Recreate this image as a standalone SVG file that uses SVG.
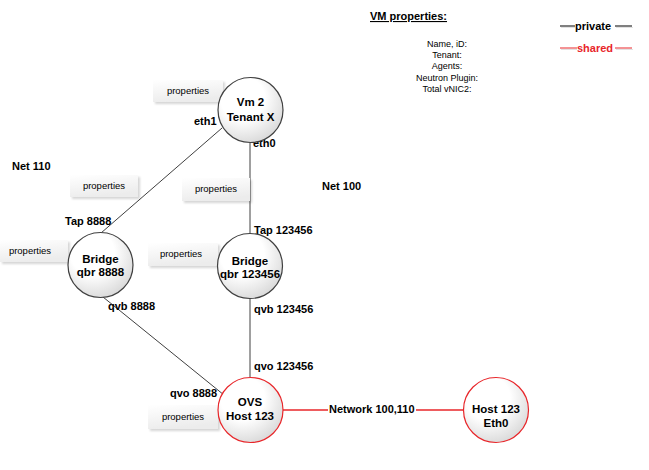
<svg xmlns="http://www.w3.org/2000/svg" width="649" height="470" viewBox="0 0 649 470">
<style>
.lbl{font-family:"Liberation Sans",Arial,sans-serif;font-size:11px;font-weight:bold;fill:#000}
.ntx{font-family:"Liberation Sans",Arial,sans-serif;font-size:11.5px;font-weight:bold;fill:#000;text-anchor:middle}
.prop{font-family:"Liberation Sans",Arial,sans-serif;font-size:9.5px;fill:#000;text-anchor:middle}
.info{font-family:"Liberation Sans",Arial,sans-serif;font-size:9px;fill:#000;text-anchor:middle}
.box{fill:url(#boxg);filter:url(#sh)}
.circ{fill:url(#cg);stroke:#404040;stroke-width:1.2}
.rcirc{fill:url(#cg);stroke:#e8262a;stroke-width:1.2}
.ln{stroke:#404040;stroke-width:1;fill:none}
.rln{stroke:#e8262a;stroke-width:1.3;fill:none}
.shd{stroke:#e2e2e2;stroke-width:1}
</style>
<defs>
<radialGradient id="cg" cx="0.38" cy="0.32" r="0.75">
<stop offset="0.45" stop-color="#ffffff"/>
<stop offset="1" stop-color="#d6d6d6"/>
</radialGradient>
<linearGradient id="boxg" x1="0" y1="0" x2="0.3" y2="1">
<stop offset="0" stop-color="#ffffff"/>
<stop offset="1" stop-color="#ececec"/>
</linearGradient>
<filter id="sh" x="-10%" y="-20%" width="130%" height="160%">
<feDropShadow dx="2" dy="2" stdDeviation="1.2" flood-color="#000" flood-opacity="0.16"/>
</filter>
</defs>
<rect width="649" height="470" fill="#fff"/>

<g id="legend">
<text x="370" y="20" class="lbl" text-decoration="underline">VM properties:</text>
<text x="447" y="47" class="info">Name, iD:</text>
<text x="447" y="58" class="info">Tenant:</text>
<text x="447" y="69" class="info">Agents:</text>
<text x="447" y="80.5" class="info">Neutron Plugin:</text>
<text x="447" y="92" class="info">Total vNIC2:</text>
<line x1="561" y1="27.5" x2="575" y2="27.5" class="shd"/>
<line x1="616" y1="27.5" x2="633" y2="27.5" class="shd"/>
<line x1="560" y1="26" x2="575" y2="26" stroke="#000" stroke-width="1"/>
<line x1="615" y1="26" x2="632" y2="26" stroke="#000" stroke-width="1"/>
<text x="575" y="30" class="lbl">private</text>
<line x1="561" y1="49.5" x2="577" y2="49.5" class="shd"/>
<line x1="616" y1="49.5" x2="633" y2="49.5" class="shd"/>
<line x1="560" y1="48" x2="577" y2="48" stroke="#e8262a" stroke-width="1"/>
<line x1="615" y1="48" x2="632" y2="48" stroke="#e8262a" stroke-width="1"/>
<text x="577" y="52" class="lbl" style="fill:#e8262a">shared</text>
</g>

<g id="connectors">
<line class="ln" x1="222" y1="128" x2="101" y2="233"/>
<line class="ln" x1="250" y1="143" x2="250" y2="234"/>
<line class="ln" x1="103" y1="297" x2="224" y2="395"/>
<line class="ln" x1="250" y1="298" x2="250" y2="377"/>
<line class="rln" x1="283" y1="410" x2="463" y2="410"/>
<rect x="328" y="403" width="88" height="13" fill="#fff"/>
<text x="329" y="413" class="lbl">Network 100,110</text>
<text x="194" y="125" class="lbl">eth1</text>
<text x="253" y="147" class="lbl">eth0</text>
<text x="65" y="225" class="lbl">Tap 8888</text>
<text x="254" y="234" class="lbl">Tap 123456</text>
<text x="108" y="310" class="lbl">qvb 8888</text>
<text x="254" y="313" class="lbl">qvb 123456</text>
<text x="254" y="370" class="lbl">qvo 123456</text>
<text x="170" y="397" class="lbl">qvo  8888</text>
</g>

<g id="nets">
<text x="12" y="170" class="lbl">Net 110</text>
<text x="322" y="190" class="lbl">Net 100</text>
</g>

<g id="props-vm2"><rect class="box" x="153" y="80" width="70" height="22"/><text x="188" y="94" class="prop">properties</text></g>
<g id="props-net110"><rect class="box" x="70" y="175" width="68" height="22"/><text x="104" y="189" class="prop">properties</text></g>
<g id="props-net100"><rect class="box" x="182" y="178" width="68" height="23"/><text x="216" y="192" class="prop">properties</text></g>
<g id="props-qbr8888"><rect class="box" x="0" y="240" width="68" height="22"/><text x="30" y="254" class="prop">properties</text></g>
<g id="props-qbr123456"><rect class="box" x="148" y="243" width="70" height="23"/><text x="181" y="257" class="prop">properties</text></g>
<g id="props-ovs"><rect class="box" x="148" y="405" width="70" height="24"/><text x="183" y="420" class="prop">properties</text></g>

<g id="vm2">
<circle class="circ" cx="250.5" cy="110" r="32.5"/>
<text x="250.5" y="106" class="ntx">Vm 2</text>
<text x="250.5" y="121" class="ntx">Tenant X</text>
</g>
<g id="qbr8888">
<circle class="circ" cx="100.5" cy="265" r="32.5"/>
<text x="100.5" y="263" class="ntx">Bridge</text>
<text x="100.5" y="276" class="ntx">qbr 8888</text>
</g>
<g id="qbr123456">
<circle class="circ" cx="250" cy="266" r="32.5"/>
<text x="250" y="265" class="ntx">Bridge</text>
<text x="250" y="278" class="ntx">qbr 123456</text>
</g>
<g id="ovs">
<circle class="rcirc" cx="250.5" cy="410" r="32.5"/>
<text x="250" y="406" class="ntx">OVS</text>
<text x="250" y="420" class="ntx">Host 123</text>
</g>
<g id="host123">
<circle class="rcirc" cx="496" cy="410" r="32.5"/>
<text x="496" y="413" class="ntx">Host 123</text>
<text x="496" y="427" class="ntx">Eth0</text>
</g>
</svg>
